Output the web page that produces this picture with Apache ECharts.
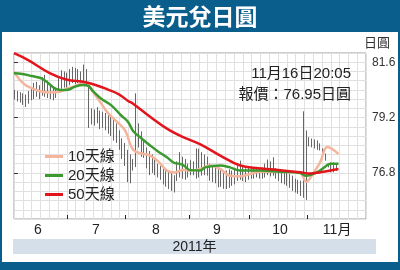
<!DOCTYPE html>
<html><head><meta charset="utf-8">
<script src="https://cdn.jsdelivr.net/npm/echarts@6/dist/echarts.min.js"></script>
<style>
html,body{margin:0;padding:0;background:#0a5e8b;width:400px;height:270px;overflow:hidden;}
#panel{position:absolute;left:2px;top:32px;width:396px;height:230px;background:#fff;}
#band{position:absolute;left:13px;top:239px;width:363px;height:15px;background:#d5dfe9;}
#c{position:absolute;left:0;top:0;width:400px;height:270px;}
</style>
</head><body><div id="panel"></div><div id="band"></div><div id="c"></div>
<script>
// ---- data (trading-day index 0..118, June 2011 – 16 Nov 2011) ----
const highs = [
 80.40,80.35,80.30,80.25,80.20,80.35,80.50,80.70,80.75,80.60,80.95,81.05,80.80,80.60,80.55,80.50,80.90,81.25,81.20,
 81.15,81.30,81.40,81.35,81.30,81.20,81.50,81.30,80.75,79.60,79.55,79.65,79.50,79.45,79.40,79.30,79.25,79.10,78.95,78.65,78.30,
 78.10,77.80,77.60,77.40,80.25,78.95,78.60,78.20,77.90,77.75,77.60,77.40,77.20,77.10,77.00,76.95,76.85,76.80,76.70,77.30,77.70,77.50,77.40,
 77.20,77.35,77.30,77.86,77.85,77.70,77.60,77.50,77.20,77.10,77.05,77.04,77.00,76.90,76.90,76.95,76.90,76.95,77.10,77.33,77.05,77.00,
 77.10,77.00,77.05,77.05,77.00,77.04,77.20,77.38,77.30,77.48,77.00,76.95,76.90,76.90,76.90,76.75,76.68,76.55,76.50,76.46,
 79.47,78.64,78.35,78.29,78.25,78.21,78.08,77.86,77.64,77.20,77.25,77.25,77.19
];
const lows = [
 79.98,79.90,79.85,79.75,79.66,79.80,79.95,80.00,80.10,80.00,80.15,80.10,80.05,80.00,79.95,80.05,80.30,80.45,80.50,
 80.45,80.60,80.70,80.65,80.70,80.60,80.65,80.70,78.75,78.90,78.85,78.95,78.70,78.75,78.65,78.50,78.40,78.20,78.10,77.80,77.40,
 77.10,76.40,76.35,76.90,77.05,77.90,77.50,77.45,77.00,76.70,76.80,76.70,76.60,76.50,76.30,76.20,76.10,76.02,75.95,76.45,76.60,76.55,76.50,
 76.60,76.70,76.70,76.55,76.60,76.68,76.70,76.68,76.46,76.40,76.35,76.17,76.20,76.11,76.10,76.15,76.24,76.30,76.45,76.50,76.45,76.40,
 76.50,76.55,76.55,76.60,76.55,76.55,76.60,76.70,76.65,76.68,76.55,76.45,76.35,76.30,76.24,76.15,76.02,75.95,75.89,75.80,75.72,
 75.63,77.95,77.91,77.86,77.80,77.77,77.48,77.33,77.04,76.82,76.82,76.88,76.93
];
const ma10 = [[0,81.19],[2,80.85],[4,80.62],[6,80.50],[9.5,80.34],[13,80.29],[16.7,80.32],[19.3,80.46],[22,80.55],[25,80.68],[27,80.61],[28.7,80.32],[31.3,79.88],[34.2,79.39],[37.5,79.01],[40.4,78.64],[43.3,77.80],[46.5,77.64],[49.5,77.55],[52.4,77.30],[55.6,76.90],[58.5,76.82],[61.5,76.93],[64.7,76.90],[67.6,76.97],[71.3,77.12],[74.9,76.97],[78.5,76.68],[82.2,76.65],[85.8,76.75],[89.5,76.85],[96.7,76.85],[104,76.80],[106.2,76.42],[109,76.82],[111.3,77.26],[114,77.92],[118,77.62]];
const ma20 = [[0,81.12],[3,81.09],[6.5,81.0],[10,80.90],[12.6,80.68],[15,80.45],[17.5,80.39],[20,80.42],[22,80.53],[25,80.61],[27,80.57],[28.7,80.35],[31.6,80.03],[35.3,79.74],[38.9,79.30],[41.5,79.01],[43.3,78.62],[46.5,78.28],[49.5,77.99],[52.5,77.72],[55.6,77.48],[58.5,77.22],[60.4,77.19],[62,77.10],[64,76.92],[67.6,76.90],[69.5,77.04],[74.9,77.12],[78.5,77.04],[82.2,76.90],[89.5,76.90],[96.7,76.85],[104,76.80],[106,76.68],[108,76.72],[111,76.88],[113.5,77.10],[115,77.20],[118,77.20]];
const ma50 = [[0,81.99],[5,81.70],[13,81.13],[19,80.85],[26,80.73],[31,80.56],[34,80.42],[38,80.22],[41.5,79.92],[43.3,79.80],[49.5,79.23],[55.6,78.72],[61.5,78.35],[67.6,78.05],[75,77.55],[82,77.13],[89,77.00],[96,76.93],[104,76.83],[107.6,76.77],[111,76.82],[118,76.97]];
const monthTicks = [19.3, 40.4, 63.6, 85.5, 106.5];
const monthLabelPos = [8.7, 29.8, 51.6, 73.8, 96.7, 117.5];
const monthLabels = ['6','7','8','9','10','11月'];
const yTicks = [76.8, 79.2, 81.6];
const seriesNames = ['10天線','20天線','50天線'];
const titleText = '美元兌日圓';
const unitText = '日圓';
const yearText = '2011年';
const stampText = '11月16日20:05';
const priceText = '報價：76.95日圓';

const FONT = '"Liberation Sans", Arial, "Noto Sans CJK TC", sans-serif';
const chart = echarts.init(document.getElementById('c'), null, {renderer:'canvas'});
const option = {
  animation:false,
  backgroundColor:'transparent',
  textStyle:{fontFamily:FONT},
  graphic:[
    {type:'text', x:200, y:16, style:{text:titleText, fill:'#fff', font:'bold 23px "Noto Sans CJK TC"', align:'center', verticalAlign:'middle'}},
    {type:'text', x:377, y:42, style:{text:unitText, fill:'#333', font:'13px "Noto Sans CJK TC"', align:'center', verticalAlign:'middle'}},
    {type:'text', x:194.5, y:247, style:{text:yearText, fill:'#222', font:'14px ' + FONT, align:'center', verticalAlign:'middle'}},
    {type:'text', x:351, y:74, z:10, style:{text:stampText, fill:'#222', font:'15px ' + FONT, align:'right', verticalAlign:'middle'}},
    {type:'text', x:351, y:95, z:10, style:{text:priceText, fill:'#222', font:'15px ' + FONT, align:'right', verticalAlign:'middle'}}
  ],
  legend:{
    data:seriesNames, orient:'vertical', left:45, top:149, itemWidth:18, itemHeight:3, itemGap:4,
    icon:'rect', padding:0, textStyle:{fontSize:15, color:'#222', fontFamily:FONT}
  },
  grid:{left:14, top:53, width:352, height:166, show:true, borderColor:'#9a9a9a', borderWidth:1, backgroundColor:'transparent'},
  xAxis:[
    {type:'value', position:'bottom', min:0, max:128, axisLine:{show:false}, splitLine:{show:false},
     axisTick:{show:true, inside:true, length:4, customValues:monthTicks, lineStyle:{color:'#222', width:1}},
     axisLabel:{customValues:monthLabelPos, formatter:v=>monthLabels[monthLabelPos.indexOf(v)], margin:4, fontSize:14, color:'#222'}},
    {type:'value', position:'top', min:0, max:40, interval:1, axisLine:{show:false}, axisTick:{show:false}, axisLabel:{show:false},
     splitLine:{show:true, lineStyle:{color:'#e0e0e0', width:1}}}
  ],
  yAxis:[
    {type:'value', position:'right', min:74.8, max:82.0, axisLine:{show:false}, splitLine:{show:false},
     axisTick:{show:true, length:4, customValues:yTicks, lineStyle:{color:'#333'}},
     axisLabel:{customValues:yTicks, formatter:v=>v.toFixed(1), margin:6, fontSize:12, color:'#333'}},
    {type:'value', position:'left', min:74.8, max:82.0, interval:0.4, axisLine:{show:false}, axisTick:{show:false}, axisLabel:{show:false},
     splitLine:{show:true, lineStyle:{color:'#e0e0e0', width:1}}}
  ],
  series:[
    {type:'custom', name:'range', xAxisIndex:0, yAxisIndex:0, z:2,
     data:highs.map((h,i)=>[i,h,lows[i]]),
     encode:{x:0, y:[1,2]},
     renderItem:(params, api)=>{
       const t = api.coord([api.value(0), api.value(1)]);
       const b = api.coord([api.value(0), api.value(2)]);
       const x = Math.round(t[0]) + 0.5;
       return {type:'line', shape:{x1:x, y1:t[1], x2:x, y2:b[1]}, style:{stroke:'#666', lineWidth:1}};
     }},
    {type:'line', name:seriesNames[0], data:ma10, xAxisIndex:0, yAxisIndex:0, smooth:0.4, showSymbol:false, symbol:'none', z:3,
     lineStyle:{color:'#f5b59c', width:2.5}, itemStyle:{color:'#f5b59c'}},
    {type:'line', name:seriesNames[1], data:ma20, xAxisIndex:0, yAxisIndex:0, smooth:0.4, showSymbol:false, symbol:'none', z:4,
     lineStyle:{color:'#3a9a30', width:2.5}, itemStyle:{color:'#3a9a30'}},
    {type:'line', name:seriesNames[2], data:ma50, xAxisIndex:0, yAxisIndex:0, smooth:0.4, showSymbol:false, symbol:'none', z:5,
     lineStyle:{color:'#e3151c', width:2.5}, itemStyle:{color:'#e3151c'}}
  ]
};
chart.setOption(option);
</script>
</body></html>
